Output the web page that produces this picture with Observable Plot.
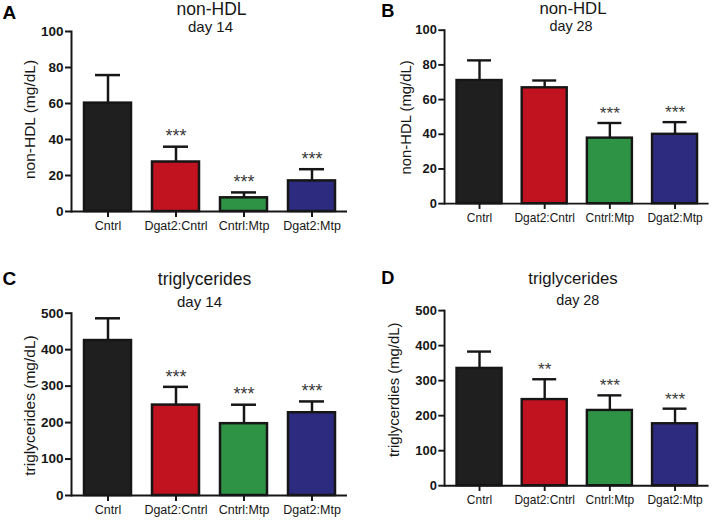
<!DOCTYPE html>
<html><head><meta charset="utf-8">
<script src="https://cdn.jsdelivr.net/npm/d3@7"></script>
<script src="https://cdn.jsdelivr.net/npm/@observablehq/plot@0.6"></script>
<style>
body{margin:0;background:#fff;}
#wrap{position:relative;width:722px;height:520px;overflow:hidden;font-family:"Liberation Sans",Arial,sans-serif;}
#wrap > div{position:absolute;}
</style></head><body><div id="wrap"></div>
<script>
const groups = ["Cntrl", "Dgat2:Cntrl", "Cntrl:Mtp", "Dgat2:Mtp"];
const colors = ["#1f1f1f", "#c1121f", "#2e9345", "#2d2b80"];

const hdl14 = [60.2, 27.5, 7.6, 17.0];
const hdl14Err = [75.8, 36.0, 10.6, 23.5];
const hdl14Sig = ["", "***", "***", "***"];

const hdl28 = [71.0, 66.8, 37.8, 40.0];
const hdl28Err = [82.6, 71.0, 46.5, 47.0];
const hdl28Sig = ["", "", "***", "***"];

const tg14 = [425, 248, 197, 227];
const tg14Err = [486, 298, 249, 258];
const tg14Sig = ["", "***", "***", "***"];

const tg28 = [335, 246, 215, 177];
const tg28Err = [383, 304, 258, 220];
const tg28Sig = ["", "**", "***", "***"];

const hdlTicks = [0, 20, 40, 60, 80, 100];
const tgTicks = [0, 100, 200, 300, 400, 500];

const FONT = '"Liberation Sans", Arial, sans-serif';
const INK = "#161616";

function panel(o) {
  const ML = 71, MR = 14, W = 361, H = 260;
  const data = groups.map((g, i) => ({g, v: o.values[i], e: o.errs[i], s: o.sigs[i], c: colors[i]}));
  const chart = Plot.plot({
    width: W, height: H,
    marginLeft: ML, marginRight: MR, marginTop: o.mt, marginBottom: o.mb,
    style: {fontFamily: FONT, color: INK, background: "transparent", overflow: "visible"},
    x: {domain: groups, paddingInner: 0.31, paddingOuter: 0.175},
    y: {domain: [0, o.ymax]},
    color: {type: "identity"},
    marks: [
      Plot.barY(data, {x: "g", y: "v", fill: "c", stroke: INK, strokeWidth: 2.5}),
      Plot.ruleX(data, {x: "g", y1: "v", y2: "e", stroke: INK, strokeWidth: 2.5}),
      Plot.tickY(data, {x: "g", y: "e", stroke: INK, strokeWidth: 2.5, insetLeft: 11, insetRight: 11}),
      Plot.text(data, {x: "g", y: "e", text: "s", dy: -10, fontSize: 18, fill: "#3a3a3a"}),
      Plot.ruleY([0], {stroke: INK, strokeWidth: 2}),
      Plot.frame({anchor: "left", stroke: INK, strokeWidth: 2}),
      Plot.axisY({ticks: o.ticks, tickSize: 6, tickPadding: 2, fontSize: 13.5, fontWeight: "bold", label: null, stroke: INK, strokeWidth: 2}),
      Plot.axisX({tickSize: 6, tickPadding: 4, fontSize: 12.5, label: null, stroke: INK, strokeWidth: 2}),
      Plot.text([o.ylabel], {frameAnchor: "top-left", dx: o.labelX - ML, dy: o.labelY - o.mt, rotate: -90, fontSize: 15.5, textAnchor: "middle", lineAnchor: "middle", fill: INK}),
      Plot.text([o.title], {frameAnchor: "top-left", dx: o.titleX - ML, dy: o.titleY - o.mt, fontSize: 17.5, textAnchor: "middle", lineAnchor: "middle", fill: INK}),
      Plot.text([o.subtitle], {frameAnchor: "top-left", dx: o.subX - ML, dy: o.subY - o.mt, fontSize: 15, textAnchor: "middle", lineAnchor: "middle", fill: INK}),
      Plot.text([o.letter], {frameAnchor: "top-left", dx: o.letterX - ML, dy: o.letterY - o.mt, fontSize: 19, fontWeight: "bold", textAnchor: "start", lineAnchor: "middle", fill: "#000"})
    ]
  });
  const div = document.createElement("div");
  div.style.left = o.left + "px";
  div.style.top = o.top + "px";
  div.appendChild(chart);
  document.getElementById("wrap").appendChild(div);
}

panel({letter: "A", title: "non-HDL", subtitle: "day 14", ylabel: "non-HDL (mg/dL)",
  values: hdl14, errs: hdl14Err, sigs: hdl14Sig, ticks: hdlTicks, ymax: 100,
  left: 0, top: 0, mt: 31, mb: 49,
  letterX: 2, letterY: 12, titleX: 211, titleY: 9, subX: 210, subY: 27, labelX: 30, labelY: 119});

panel({letter: "B", title: "non-HDL", subtitle: "day 28", ylabel: "non-HDL (mg/dL)",
  values: hdl28, errs: hdl28Err, sigs: hdl28Sig, ticks: hdlTicks, ymax: 100,
  left: 376, top: 0, mt: 31, mb: 48,
  letterX: 5, letterY: 11, titleX: 205, titleY: 9, subX: 203, subY: 27, labelX: 31, labelY: 122});

panel({letter: "C", title: "triglycerides", subtitle: "day 14", ylabel: "triglycerides (mg/dL)",
  values: tg14, errs: tg14Err, sigs: tg14Sig, ticks: tgTicks, ymax: 500,
  left: 0, top: 260, mt: 52.7, mb: 25,
  letterX: 2, letterY: 18, titleX: 204, titleY: 18.5, subX: 199, subY: 42, labelX: 30, labelY: 145});

panel({letter: "D", title: "triglycerides", subtitle: "day 28", ylabel: "triglycerdies (mg/dL)",
  values: tg28, errs: tg28Err, sigs: tg28Sig, ticks: tgTicks, ymax: 500,
  left: 376, top: 260, mt: 52.3, mb: 25,
  letterX: 5, letterY: 18, titleX: 205, titleY: 18.5, subX: 210, subY: 42, labelX: 19, labelY: 135});
</script>
</body></html>
